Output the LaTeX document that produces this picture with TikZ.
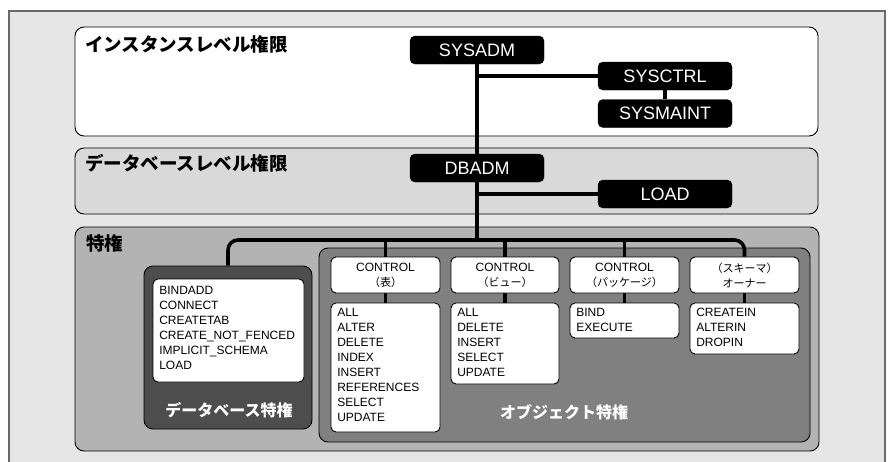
\documentclass[tikz,border=0pt]{standalone}
\usepackage{fontspec}
\setmainfont{Liberation Sans}
\newfontfamily\jp{Noto Sans CJK JP}
\definecolor{bgc}{HTML}{E6E6E6}
\definecolor{frc}{HTML}{6A6A6A}
\definecolor{dbc}{HTML}{D9D9D9}
\definecolor{privc}{HTML}{B3B3B3}
\definecolor{darkc}{HTML}{4D4D4D}
\definecolor{objc}{HTML}{808080}
\pgfdeclarelayer{back}
\pgfdeclarelayer{lines}
\pgfsetlayers{back,lines,main}
\begin{document}
\begin{tikzpicture}[x=1pt,y=-1pt,
  blk/.style={draw=black, fill=black, rounded corners=5pt, minimum width=134pt, minimum height=28pt, inner sep=0pt, text=white, font=\fontsize{18}{20}\selectfont},
  grp/.style={draw=black, line width=0.9pt, rounded corners=9pt, inner sep=0pt},
  wbox/.style={draw=black, fill=white, line width=0.9pt, rounded corners=5pt, inner sep=0pt},
  hdr/.style={wbox, minimum width=109pt, minimum height=36pt, align=center, font=\fontsize{12}{15}\selectfont},
  lst/.style={anchor=north west, inner sep=0pt, align=left, font=\fontsize{12}{15}\selectfont},
  ttl/.style={anchor=west, inner sep=0pt, font=\jp\bfseries\fontsize{18.5}{21}\selectfont},
  wttl/.style={inner sep=0pt, text=white, font=\jp\bfseries\fontsize{16}{18}\selectfont},
  conn/.style={line width=3.6pt}]
\useasboundingbox (0,0) rectangle (891,461);
\begin{pgfonlayer}{back}
\begin{scope}
\clip (0,0) rectangle (891,461);
\fill[white] (0,0) rectangle (891,461);
\draw[fill=bgc, draw=frc, line width=1.5pt] (9,11) rectangle (885,480);
\end{scope}
\node[grp, fill=white, minimum width=743pt, minimum height=109pt] (inst) at (446.5,81.5) {};
\node[grp, fill=dbc, minimum width=743pt, minimum height=66pt] (dbl) at (446.5,181) {};
\node[grp, fill=privc, minimum width=744pt, minimum height=224pt] (priv) at (447,339) {};
\node[grp, fill=darkc, minimum width=168pt, minimum height=163pt] (dbpriv) at (228,347.5) {};
\node[grp, fill=objc, minimum width=491pt, minimum height=194pt] (objpriv) at (564.5,345) {};
\end{pgfonlayer}

% titles
\node[ttl] (tinst) at (85,44) {インスタンスレベル権限};
\node[ttl] (tdb) at (85,163.5) {データベースレベル権限};
\node[ttl] (tpriv) at (86,243.5) {特権};
\node[wttl] (tdbpriv) at (229,410) {データベース特権};
\node[wttl] (tobj) at (564,412) {オブジェクト特権};

% black nodes
\node[blk] (sysadm) at (477,50) {SYSADM};
\node[blk] (sysctrl) at (665,76) {SYSCTRL};
\node[blk] (sysmaint) at (665,113.5) {SYSMAINT};
\node[blk] (dbadm) at (477,168) {DBADM};
\node[blk] (load) at (665,194) {LOAD};

% database privileges list
\node[wbox, minimum width=151pt, minimum height=103pt] (dblist) at (228.5,330.5) {};
\node[lst] (dbtext) at ([shift={(6.5,7.5)}]dblist.north west) {BINDADD\\CONNECT\\CREATETAB\\CREATE\_NOT\_FENCED\\IMPLICIT\_SCHEMA\\LOAD};

% object headers
\node[hdr] (h1) at (385.5,275) {CONTROL\\{\jp\fontsize{11}{15}\selectfont （表）}};
\node[hdr, minimum width=108pt] (h2) at (505,275) {CONTROL\\{\jp\fontsize{11}{15}\selectfont （ビュー）}};
\node[hdr] (h3) at (624.5,275) {CONTROL\\{\jp\fontsize{11}{15}\selectfont （パッケージ）}};
\node[hdr] (h4) at (744.5,275) {{\jp\fontsize{11}{15}\selectfont （スキーマ）}\\{\jp\fontsize{11}{15}\selectfont オーナー}};

% object lists
\node[wbox, minimum width=109pt, minimum height=129pt] (l1) at (385.5,367.5) {};
\node[wbox, minimum width=108pt, minimum height=81pt] (l2) at (505,343.5) {};
\node[wbox, minimum width=109pt, minimum height=35pt] (l3) at (624.5,320.5) {};
\node[wbox, minimum width=109pt, minimum height=51pt] (l4) at (744.5,328.5) {};
\node[lst] (lt1) at ([shift={(6.5,5.7)}]l1.north west) {ALL\\ALTER\\DELETE\\INDEX\\INSERT\\REFERENCES\\SELECT\\UPDATE};
\node[lst] (lt2) at ([shift={(6.5,5.7)}]l2.north west) {ALL\\DELETE\\INSERT\\SELECT\\UPDATE};
\node[lst] (lt3) at ([shift={(6.5,5.7)}]l3.north west) {BIND\\EXECUTE};
\node[lst] (lt4) at ([shift={(6.5,5.7)}]l4.north west) {CREATEIN\\ALTERIN\\DROPIN};

\coordinate (bus) at (477,240);

\begin{pgfonlayer}{lines}
\draw[conn] (sysadm.south) -- (dbadm.north);
\draw[conn] (dbadm.south) -- (bus);
\draw[conn] (sysadm.south |- sysctrl.west) -- (sysctrl.west);
\draw[conn] (sysctrl.south) -- (sysmaint.north);
\draw[conn] (dbadm.south |- load.west) -- (load.west);
\draw[conn, rounded corners=10pt] (dbpriv.north) |- (bus) -| (h4.north);
\draw[conn] (h1.north |- bus) -- (h1.north);
\draw[conn] (h2.north |- bus) -- (h2.north);
\draw[conn] (h3.north |- bus) -- (h3.north);
\draw[conn] (h1.south) -- (l1.north);
\draw[conn] (h2.south) -- (l2.north);
\draw[conn] (h3.south) -- (l3.north);
\draw[conn] (h4.south) -- (l4.north);
\end{pgfonlayer}
\end{tikzpicture}
\end{document}
